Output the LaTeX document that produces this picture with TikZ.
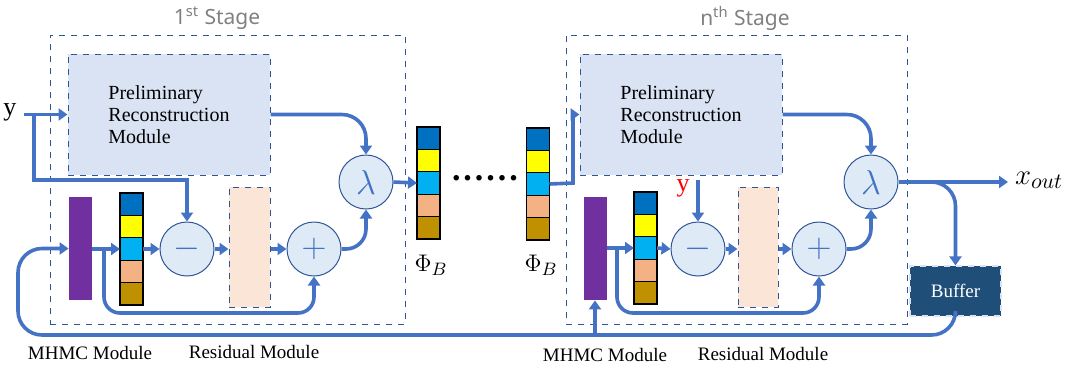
\documentclass[tikz,border=0pt]{standalone}
\usepackage{fontspec}
\setmainfont{Liberation Serif}
\newfontfamily\stagefont{Noto Sans}
\usepackage{tikz}
\usetikzlibrary{arrows.meta, positioning, calc}

\definecolor{lineblue}{HTML}{4472C4}
\definecolor{edgeblue}{HTML}{2F5597}
\definecolor{opfill}{HTML}{DEEBF7}
\definecolor{prmfill}{HTML}{DAE3F3}
\definecolor{resfill}{HTML}{FBE5D6}
\definecolor{mhmcpurple}{HTML}{7030A0}
\definecolor{bufblue}{HTML}{1F4E79}
\definecolor{cA}{HTML}{0070C0}
\definecolor{cB}{HTML}{FFFF00}
\definecolor{cC}{HTML}{00B0F0}
\definecolor{cD}{HTML}{F4B183}
\definecolor{cE}{HTML}{BF9000}

% one sampling-matrix stack: name, x centre, y top (pixels)
\newcommand{\phistack}[3]{%
  \foreach \c [count=\i] in {cA,cB,cC,cD,cE}
    \node[cell, fill=\c] (#1-\i) at (#2, {#3+11.2+22.4*(\i-1)}) {};
}

\begin{document}
\begin{tikzpicture}[
  x=0.5pt, y=-0.5pt,
  stagebox/.style={rectangle, draw=edgeblue, dashed, line width=0.5pt,
                   minimum width=177.5pt, minimum height=144.5pt},
  stagetitle/.style={font=\stagefont\fontsize{10.5}{12}\selectfont, text=gray},
  prm/.style={rectangle, draw=edgeblue, dashed, line width=0.5pt, fill=prmfill,
              minimum width=101pt, minimum height=60.5pt, align=left,
              font=\fontsize{10}{11}\selectfont},
  mhmc/.style={rectangle, fill=mhmcpurple, minimum width=11.5pt,
               minimum height=51.5pt, inner sep=0pt},
  res/.style={rectangle, draw=edgeblue, dashed, line width=0.5pt, fill=resfill,
              minimum width=20.5pt, minimum height=60pt, inner sep=0pt},
  cell/.style={rectangle, draw=black, line width=0.6pt, minimum width=11.5pt,
               minimum height=11.2pt, inner sep=0pt, outer sep=0pt},
  op/.style={circle, draw=edgeblue, line width=0.5pt, fill=opfill,
             minimum size=27pt, inner sep=0pt, text=lineblue,
             font=\fontsize{18}{18}\selectfont},
  buf/.style={rectangle, draw=prmfill, dashed, line width=0.6pt, fill=bufblue,
              minimum width=45.5pt, minimum height=25pt, text=white,
              font=\fontsize{9.5}{11}\selectfont},
  caption/.style={font=\fontsize{9.5}{11}\selectfont},
  conn/.style={draw=lineblue, line width=1.8pt,
               -{Triangle[length=4.5pt, width=6pt]}},
]
\useasboundingbox (0,0) rectangle (1083,372);

% stage frames
\node[stagebox] (stage1) at (227.5,179.5) {};
\node[stagebox, minimum width=170.5pt] (stagen) at (736.5,179.5) {};
\node[stagetitle] (title1) at (217,18) {1\textsuperscript{st} Stage};
\node[stagetitle] (titlen) at (745,18) {n\textsuperscript{th} Stage};

% first stage
\node (y) at (10,112) {\fontsize{13}{13}\selectfont y};
\node[prm] (prm1) at (169,114.5) {Preliminary\\Reconstruction\\Module};
\node[mhmc] (mhmc1) at (80.5,248.5) {};
\phistack{st1}{131.5}{193}
\node[op] (minus1) at (187,249) {$-$};
\node[res] (res1) at (249.5,247) {};
\node[op] (plus1) at (314,249) {$+$};
\node[op] (lam1) at (366,182) {$\lambda$};

% between the stages
\phistack{m1}{428.5}{127}
\phistack{m2}{538}{128}
\node (phi1) at (431,265) {\fontsize{13}{13}\selectfont$\Phi_B$};
\node (phi2) at (541,265) {\fontsize{13}{13}\selectfont$\Phi_B$};
\node (dots) at (485,178) {\fontsize{17}{17}\selectfont\textbf{.\kern1.5pt.\kern1.5pt.\kern1.5pt.\kern1.5pt.\kern1.5pt.}};

% n-th stage
\node[prm] (prm2) at (681,114.5) {Preliminary\\Reconstruction\\Module};
\node[mhmc] (mhmc2) at (595,248.5) {};
\phistack{st2}{645.5}{192}
\node[text=red] (y2) at (683,188) {\fontsize{13}{13}\selectfont y};
\node[op] (minus2) at (698,249) {$-$};
\node[res, minimum width=20pt] (res2) at (758,247) {};
\node[op] (plus2) at (819,249) {$+$};
\node[op] (lam2) at (871,182) {$\lambda$};
\node[anchor=west] (xout) at (1008,180) {\fontsize{15}{15}\selectfont$x_{out}$};
\node[buf] (buffer) at (955.5,291) {Buffer};

% captions
\node[caption] (cap1) at (90,353) {MHMC Module};
\node[caption] (cap2) at (254,352) {Residual Module};
\node[caption] (cap3) at (605,355) {MHMC Module};
\node[caption] (cap4) at (763,354) {Residual Module};

% helper points
\coordinate (ybr) at (34,114.5);
\coordinate (ylow) at (34,180);
\coordinate (br1) at (104,249);
\coordinate (lo1) at (104,313);
\coordinate (up2) at (573,183);
\coordinate (y2top) at (698,180);
\coordinate (br2) at (617,249);
\coordinate (lo2) at (617,313);
\coordinate (obr) at (925,182);
\coordinate (fbL) at (18,335);
\coordinate (fb2) at (595,335);

% first stage connectors
\draw[conn] (y.east |- prm1.west) -- (prm1.west);
\draw[conn] (ybr) -- (ylow) -| (minus1.north);
\draw[conn] (mhmc1.east |- st1-3.west) -- (st1-3.west);
\draw[conn] (st1-3.east) -- (minus1.west);
\draw[conn] (minus1.east) -- (res1.west |- minus1.east);
\draw[conn] (res1.east |- plus1.west) -- (plus1.west);
\draw[conn, rounded corners=8pt] (br1) -- (lo1) -| (plus1.south);
\draw[conn, rounded corners=12pt] (prm1.east) -| (lam1.north);
\draw[conn, rounded corners=10pt] (plus1.east) -| (lam1.south);
\draw[conn] (lam1.east) -- (m1-3.west);

% into the n-th stage
\draw[conn] (m2-3.east) -- (up2) |- (prm2.west);

% n-th stage connectors
\draw[conn] (y2top) -- (minus2.north);
\draw[conn] (mhmc2.east |- st2-3.west) -- (st2-3.west);
\draw[conn] (st2-3.east) -- (minus2.west);
\draw[conn] (minus2.east) -- (res2.west |- minus2.east);
\draw[conn] (res2.east |- plus2.west) -- (plus2.west);
\draw[conn, rounded corners=8pt] (br2) -- (lo2) -| (plus2.south);
\draw[conn, rounded corners=12pt] (prm2.east) -| (lam2.north);
\draw[conn, rounded corners=10pt] (plus2.east) -| (lam2.south);
\draw[conn] (lam2.east) -- (xout.west |- lam2.east);
\draw[conn, rounded corners=12pt] (obr) -| (buffer.north);

% feedback from the buffer
\draw[conn, rounded corners=12pt] (buffer.south) |- (fbL) |- (mhmc1.west);
\draw[conn] (fb2) -- (mhmc2.south);
\end{tikzpicture}
\end{document}
